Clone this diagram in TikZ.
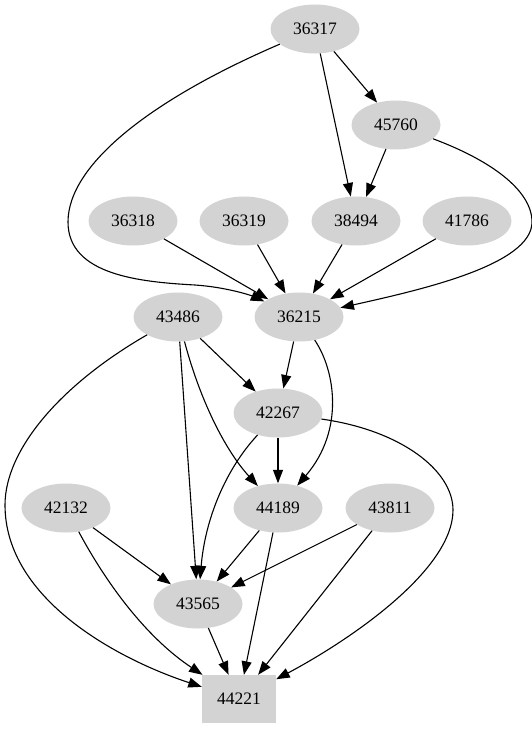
\documentclass[tikz,border=0pt]{standalone}
\usepackage{fontspec}
\setmainfont{Liberation Serif}
\usetikzlibrary{shapes.geometric,arrows.meta}
\definecolor{lgray}{HTML}{D3D3D3}
\begin{document}
\begin{tikzpicture}[x=1pt,y=-1pt,>={Triangle[length=13.5pt,width=10pt]},line join=round,
	font=\fontsize{17.5}{20}\selectfont,
	job/.style={ellipse,fill=lgray,minimum width=89pt,minimum height=49pt,inner sep=0pt},
	sink/.style={rectangle,fill=lgray,minimum width=74pt,minimum height=48pt,inner sep=0pt},
	dep/.style={->,line width=1.1pt}]
	\useasboundingbox (0,0) rectangle (532,731);
	% nodes
	\node[job] (n36317) at (315,29) {36317};
	\node[job] (n45760) at (396,125) {45760};
	\node[job] (n36318) at (133,221) {36318};
	\node[job] (n36319) at (244,221) {36319};
	\node[job] (n38494) at (356,221) {38494};
	\node[job] (n41786) at (467,221) {41786};
	\node[job] (n43486) at (178,317) {43486};
	\node[job] (n36215) at (299,317) {36215};
	\node[job] (n42267) at (278,413) {42267};
	\node[job] (n42132) at (66,508) {42132};
	\node[job] (n44189) at (278,508) {44189};
	\node[job] (n43811) at (390,508) {43811};
	\node[job] (n43565) at (198,604) {43565};
	\node[sink] (n44221) at (239,699) {44221};
	% edges
	\draw[dep] (n36317)--(n45760);
	\draw[dep] (n36317)--(n38494);
	\draw[dep] (n36317) .. controls (150,100) and (68,165) .. (68,222) .. controls (68,275) and (140,282) .. (195,285) .. controls (225,287) and (250,295) .. (n36215);
	\draw[dep] (n45760)--(n38494);
	\draw[dep] (n45760) .. controls (490,160) and (532,190) .. (532,222) .. controls (532,265) and (420,290) .. (n36215);
	\draw[dep] (n36318)--(n36215);
	\draw[dep] (n36319)--(n36215);
	\draw[dep] (n38494)--(n36215);
	\draw[dep] (n41786)--(n36215);
	\draw[dep] (n36215)--(n42267);
	\draw[dep] (n36215) .. controls (335,370) and (345,430) .. (n44189);
	\draw[dep] (n43486)--(n42267);
	\draw[dep] (n43486) .. controls (200,400) and (225,450) .. (n44189);
	\draw[dep] (n43486)--(n43565);
	\draw[dep] (n43486) .. controls (60,385) and (5,450) .. (5,505) .. controls (5,600) and (120,660) .. (n44221);
	\draw[dep] (n42267)--(n44189);
	\draw[dep] (n42267) .. controls (225,470) and (205,520) .. (n43565);
	\draw[dep] (n42267) .. controls (400,430) and (453,470) .. (453,510) .. controls (453,570) and (350,640) .. (n44221);
	\draw[dep] (n42132)--(n43565);
	\draw[dep] (n42132) .. controls (110,590) and (150,640) .. (n44221);
	\draw[dep] (n44189)--(n43565);
	\draw[dep] (n44189)--(n44221);
	\draw[dep] (n43811)--(n43565);
	\draw[dep] (n43811)--(n44221);
	\draw[dep] (n43565)--(n44221);
\end{tikzpicture}
\end{document}
